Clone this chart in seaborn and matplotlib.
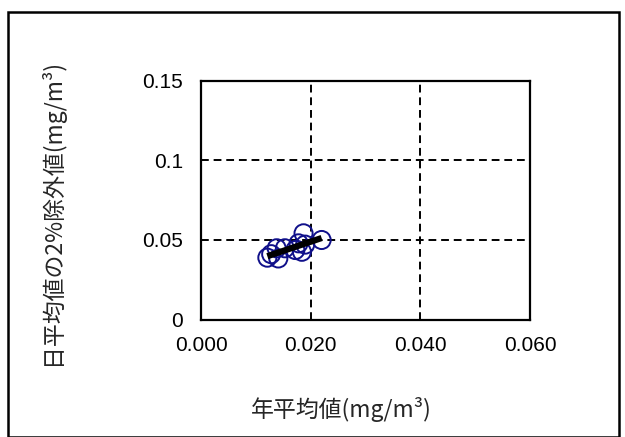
import matplotlib
matplotlib.use("Agg")
import matplotlib.pyplot as plt
import seaborn as sns
import numpy as np
import pandas as pd
from matplotlib.patches import Rectangle

# Data
annual_mean = [0.0121, 0.0128, 0.0138, 0.0141, 0.0153, 0.0172, 0.0178, 0.0184, 0.0187, 0.0190, 0.0220]
daily_2pct = [0.0388, 0.0410, 0.0447, 0.0383, 0.0447, 0.0436, 0.0478, 0.0425, 0.0541, 0.0470, 0.0499]
x_ticks = [0.0, 0.02, 0.04, 0.06]
x_ticklabels = ["0.000", "0.020", "0.040", "0.060"]
y_ticks = [0.0, 0.05, 0.1, 0.15]
y_ticklabels = ["0", "0.05", "0.1", "0.15"]
x_label = "年平均値(mg/m³)"
y_label = "日平均値の2%除外値(mg/m³)"

sns.set_theme(style="white")
plt.rcParams['font.family'] = ['Noto Sans CJK JP', 'DejaVu Sans']

df = pd.DataFrame({"x": annual_mean, "y": daily_2pct})

fig = plt.figure(figsize=(6.25, 4.37), dpi=100)
ax = fig.add_axes([201/625, 1-319.5/437, (530-201)/625, (319.5-80.5)/437])

sns.scatterplot(data=df, x="x", y="y", ax=ax, marker="o", s=170,
                facecolor="none", edgecolor="#10108a", linewidth=1.4, zorder=3)
sns.regplot(data=df, x="x", y="y", ax=ax, scatter=False, ci=None, truncate=True,
            line_kws={"color": "black", "linewidth": 4.5, "zorder": 4,
                      "solid_capstyle": "butt"})

ax.set_xlim(0, 0.06)
ax.set_ylim(0, 0.15)
ax.set_xticks(x_ticks)
ax.set_xticklabels(x_ticklabels)
ax.set_yticks(y_ticks)
ax.set_yticklabels(y_ticklabels)
ax.tick_params(axis="both", length=0, labelsize=15, colors="black")
ax.tick_params(axis="x", pad=12)
ax.tick_params(axis="y", pad=13)
for lab in ax.get_xticklabels() + ax.get_yticklabels():
    lab.set_family(["Liberation Sans", "DejaVu Sans"])

ax.grid(True, color="black", linestyle=(0, (4, 2.5)), linewidth=1.4)
ax.set_axisbelow(True)
for s in ax.spines.values():
    s.set_visible(True)
    s.set_color("black")
    s.set_linewidth(1.6)

ax.set_xlabel("")
ax.set_ylabel("")
fig.text(341/625, 1-410/437, x_label, ha="center", va="center", fontsize=16.5)
fig.text(51/625, 1-212/437, y_label, ha="center", va="center", fontsize=16.5, rotation=90)

fig.patches.append(Rectangle((8/625, 0), (619-8)/625, 1-12/437, transform=fig.transFigure,
                             fill=False, edgecolor="black", linewidth=1.8))

fig.savefig("out.png", dpi=100, facecolor="white")
